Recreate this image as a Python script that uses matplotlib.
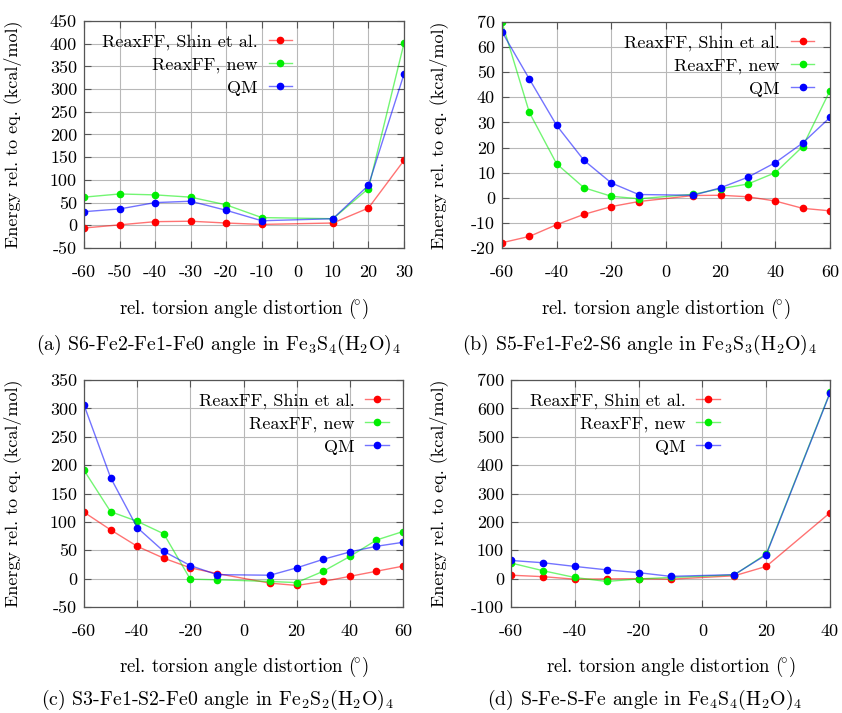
import matplotlib
matplotlib.use("Agg")
import matplotlib.pyplot as plt
import numpy as np

plt.rcParams["font.family"] = ["cmr10", "DejaVu Serif"]
plt.rcParams["mathtext.fontset"] = "cm"
plt.rcParams["axes.unicode_minus"] = False
plt.rcParams["axes.formatter.use_mathtext"] = False

labels = ["ReaxFF, Shin et al.", "ReaxFF, new", "QM"]
colors = ["#ff0000", "#00ee00", "#0000ff"]

# (a) S6-Fe2-Fe1-Fe0
xa = [-60, -50, -40, -30, -20, -10, 10, 20, 30]
a_shin = [-6, 1, 8, 9, 5, 2, 5, 38, 143]
a_new = [62, 69, 67, 62, 45, 17, 14.5, 81, 401]
a_qm = [30, 36, 50, 53, 33, 10, 14.5, 88, 333]

# (b) S5-Fe1-Fe2-S6
xb = [-60, -50, -40, -30, -20, -10, 10, 20, 30, 40, 50, 60]
b_shin = [-17.9, -15.4, -10.7, -6.6, -3.5, -1.5, 0.9, 1.0, 0.4, -1.3, -4.2, -5.2]
b_new = [69.9, 34, 13.5, 4, 0.6, -0.4, 1.4, 3.6, 5.5, 10, 20.4, 42.7]
b_qm = [66.1, 47.3, 28.8, 14.9, 5.9, 1.3, 1.0, 4, 8.2, 14, 21.8, 32]

# (c) S3-Fe1-S2-Fe0
xc = [-60, -50, -40, -30, -20, -10, 10, 20, 30, 40, 50, 60]
c_shin = [117, 86, 57, 36, 19, 9, -8, -12, -5, 4, 13, 22]
c_new = [191, 118, 101, 79, -1, -2, -5, -7, 13, 39, 68, 83]
c_qm = [306, 178, 90, 48, 23, 7, 6, 19, 34, 47, 57, 64]

# (d) S-Fe-S-Fe
xd = [-60, -50, -40, -30, -20, -10, 10, 20, 40]
d_shin = [12, 7, -2, -1, 0, -2, 10, 43, 232]
d_new = [55, 28, 4, -10, -1, 4, 13, 87, 656]
d_qm = [64, 56, 43, 31, 21, 8, 14, 84, 654]

captions = [
    r"(a) S6-Fe2-Fe1-Fe0 angle in Fe$_3$S$_4$(H$_2$O)$_4$",
    r"(b) S5-Fe1-Fe2-S6 angle in Fe$_3$S$_3$(H$_2$O)$_4$",
    r"(c) S3-Fe1-S2-Fe0 angle in Fe$_2$S$_2$(H$_2$O)$_4$",
    r"(d) S-Fe-S-Fe angle in Fe$_4$S$_4$(H$_2$O)$_4$",
]

panels = [
    (xa, [a_shin, a_new, a_qm], (-60, 30), np.arange(-60, 31, 10), (-50, 450), np.arange(-50, 451, 50)),
    (xb, [b_shin, b_new, b_qm], (-60, 60), np.arange(-60, 61, 20), (-20, 70), np.arange(-20, 71, 10)),
    (xc, [c_shin, c_new, c_qm], (-60, 60), np.arange(-60, 61, 20), (-50, 350), np.arange(-50, 351, 50)),
    (xd, [d_shin, d_new, d_qm], (-60, 40), np.arange(-60, 41, 20), (-100, 700), np.arange(-100, 701, 100)),
]

W, H = 842, 713
# axes boxes in pixels: left, top, right, bottom
boxes = [(84, 21, 404, 248), (502, 22, 830, 248), (84, 380, 403, 607), (511, 380, 830, 607)]
legend_x = [0.65, 0.952, 0.955, 0.655]
ylabel_x = [22, 448, 22, 448]
xlabel_y = [309, 309, 667, 667]
caption_y = [345, 345, 700, 700]

fig = plt.figure(figsize=(W / 100, H / 100), dpi=100)

for i, (x, series, xlim, xt, ylim, yt) in enumerate(panels):
    l, t, r, b = boxes[i]
    ax = fig.add_axes([l / W, 1 - b / H, (r - l) / W, (b - t) / H])
    for ys, lab, col in zip(series, labels, colors):
        rgb = matplotlib.colors.to_rgb(col)
        ax.plot(x, ys, color=rgb + (0.55,), lw=1.0, marker="o", ms=4.5,
                mfc=col, mec=col, label=lab)
    ax.set_xlim(*xlim)
    ax.set_ylim(*ylim)
    ax.set_xticks(xt)
    ax.set_yticks(yt)
    ax.grid(True, color="#b8b8b8", lw=0.8)
    ax.set_axisbelow(True)
    ax.tick_params(direction="in", top=True, right=True, labelsize=13,
                   length=5, width=0.8, color="#555555")
    ax.tick_params(axis="x", pad=12)
    ax.tick_params(axis="y", pad=5)
    for s in ax.spines.values():
        s.set_color("#555555")
        s.set_linewidth(0.9)
    ax.legend(loc="upper right", bbox_to_anchor=(legend_x[i], 0.945), frameon=False,
              markerfirst=False, numpoints=1, fontsize=13, handlelength=1.3,
              handletextpad=0.6, labelspacing=0.4, borderpad=0, borderaxespad=0)
    ax.set_ylabel("Energy rel. to eq. (kcal/mol)", fontsize=13)
    ax.yaxis.set_label_coords((ylabel_x[i] - l) / (r - l), 0.5)
    cx = (l + r) / 2
    fig.text(cx / W, 1 - xlabel_y[i] / H, r"rel. torsion angle distortion $(\!^{\circ})$",
             ha="center", va="center", fontsize=13.5)
    fig.text((cx - 26) / W, 1 - caption_y[i] / H, captions[i],
             ha="center", va="center", fontsize=14.3)

fig.savefig("out.png", dpi=100)
